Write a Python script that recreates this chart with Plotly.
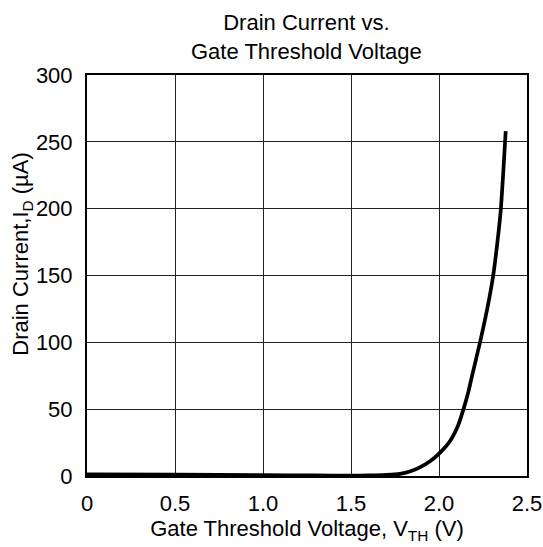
import plotly.graph_objects as go

vth = [0.0, 0.5, 1.0, 1.3, 1.5, 1.6, 1.7, 1.778, 1.838, 1.891, 1.949, 2.006, 2.062, 2.109, 2.138, 2.167, 2.186, 2.233, 2.274, 2.308, 2.332, 2.351, 2.366, 2.379]
id_ua = [1.2, 1.0, 0.7, 0.4, 0.3, 0.4, 0.8, 1.6, 3.6, 6.5, 11, 17.5, 26, 38, 49.5, 63, 74, 100, 125, 150, 175, 199, 229, 258]

x_ticks = [0, 0.5, 1.0, 1.5, 2.0, 2.5]
x_labels = ["0", "0.5", "1.0", "1.5", "2.0", "2.5"]
y_ticks = [0, 50, 100, 150, 200, 250, 300]

font = "Liberation Sans, Arial, sans-serif"

fig = go.Figure()
fig.add_trace(go.Scatter(x=vth, y=id_ua, mode="lines", line=dict(color="black", width=3.7, shape="spline", smoothing=0.6), showlegend=False))

fig.update_layout(
    width=543, height=547,
    margin=dict(l=87, r=16, t=75, b=71),
    paper_bgcolor="white", plot_bgcolor="white",
    font=dict(family=font, color="black"),
    annotations=[
        dict(text="Drain Current vs.<br>Gate Threshold Voltage", xref="paper", yref="paper", x=0.498, y=1.168,
             xanchor="center", yanchor="top", showarrow=False, font=dict(size=22, family=font, color="black")),
        dict(text="Drain Current,I<sub>D</sub> (µA)", xref="paper", yref="paper", x=-0.148, y=0.554,
             xanchor="center", yanchor="middle", textangle=-90, showarrow=False, font=dict(size=22, family=font, color="black")),
    ],
)
fig.update_xaxes(range=[0, 2.5], tickvals=x_ticks, ticktext=x_labels, showgrid=True, gridcolor="#222", gridwidth=1,
                 showline=True, linecolor="black", linewidth=2, mirror=True, ticks="outside", ticklen=7, tickcolor="rgba(0,0,0,0)", zeroline=False,
                 automargin=False,
                 tickfont=dict(size=22, family=font), title=dict(text="Gate Threshold Voltage, V<sub>TH</sub> (V)", font=dict(size=22, family=font), standoff=2))
fig.update_yaxes(range=[0, 300], tickvals=y_ticks, showgrid=True, gridcolor="#222", gridwidth=1,
                 showline=True, linecolor="black", linewidth=2, mirror=True, ticks="outside", ticklen=8, tickcolor="rgba(0,0,0,0)", zeroline=False,
                 automargin=False,
                 tickfont=dict(size=22, family=font))

fig.write_html("out.html", config={"displayModeBar": False}, post_script="document.body.style.margin='0px';")
